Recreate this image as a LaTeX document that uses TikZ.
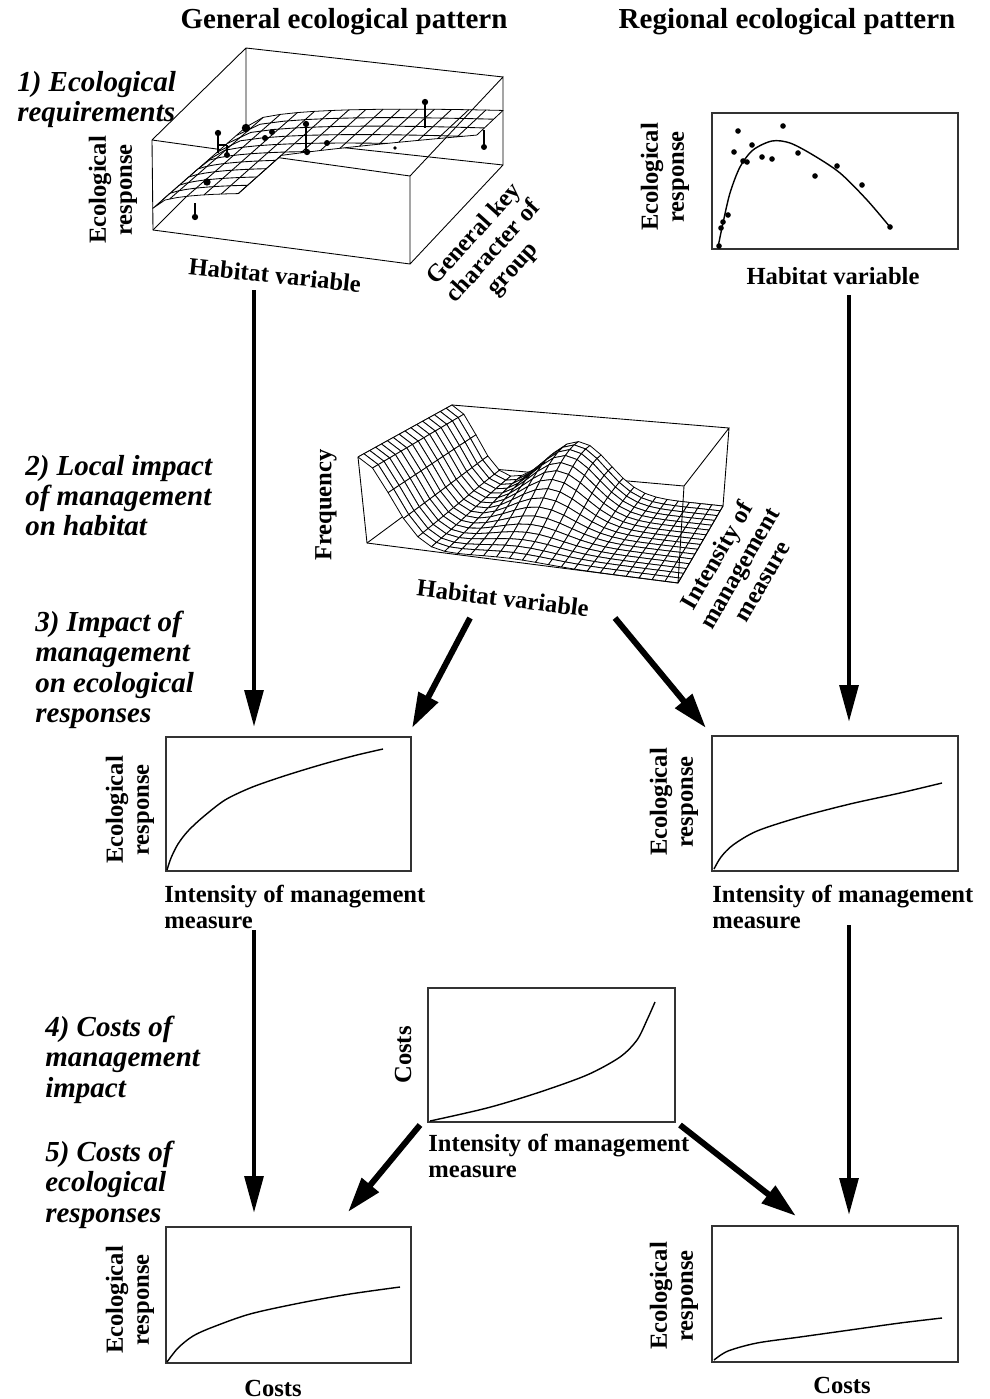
\documentclass[tikz,border=0pt]{standalone}
\usepackage{fontspec}
\setmainfont{Liberation Serif}
\usepackage{tikz}
\usetikzlibrary{arrows.meta,calc}

\begin{document}
\begin{tikzpicture}[x=0.02cm, y=-0.02cm,
  head/.style={font=\bfseries\fontsize{16.5}{19}\selectfont, inner sep=0pt},
  steplab/.style={font=\bfseries\itshape\fontsize{16.5}{17.2}\selectfont, align=left, anchor=north west, inner sep=0pt},
  axlab/.style={font=\bfseries\fontsize{14}{14.8}\selectfont, inner sep=0pt},
  frame/.style={draw=black!80, line width=0.6pt},
  curve/.style={line width=0.8pt},
  edge/.style={line width=0.5pt},
  meshline/.style={line width=0.5pt},
  meshcell/.style={fill=white, draw=black, line width=0.45pt, line join=round},
  bigarrow/.style={line width=2.6pt, -{Triangle[length=21pt,width=10.5pt]}},
  diagarrow/.style={line width=3.4pt, -{Triangle[length=20pt,width=12pt]}},
  declare function={
    ax(\xu,\xv,\xw)=(1-\xu)*(1-\xv)*(153-\xw)+\xu*(1-\xv)*410+\xu*\xv*503+(1-\xu)*\xv*246;
    ay(\xu,\xv,\xw)=(1-\xu)*(1-\xv)*(230-90*\xw)+\xu*(1-\xv)*(264-88*\xw)+\xu*\xv*(165-88*\xw)+(1-\xu)*\xv*(137-89*\xw);
    az(\xu,\xv)=0.24+0.51*sqrt(\xu)-0.13*\xv;
    bx(\xu,\xv,\xw)=(1-\xu)*(1-\xv)*(367-9*\xw)+\xu*(1-\xv)*(678+6*\xw)+\xu*\xv*(723+6*\xw)+(1-\xu)*\xv*(455-3*\xw);
    by(\xu,\xv,\xw)=(1-\xu)*(1-\xv)*(543-86*\xw)+\xu*(1-\xv)*(583-97*\xw)+\xu*\xv*(506-78*\xw)+(1-\xu)*\xv*(478-73*\xw);
    bz(\xu,\xv)=min(1,exp(max(-9,-(\xu/0.12)*(\xu/0.12)))+0.66*exp(max(-9,-((\xu-0.46)/0.16)*((\xu-0.46)/0.16)))*exp(-((\xv-0.95)/0.55)*((\xv-0.95)/0.55)));
  }]
\useasboundingbox (0,0) rectangle (990,1399);

% Column headings
\node[head] (hgen) at (344,22) {General ecological pattern};
\node[head] (hreg) at (787,22) {Regional ecological pattern};

% Step labels
\node[steplab] (s1) at (17,71) {1) Ecological\\requirements};
\node[steplab] (s2) at (25,455) {2) Local impact\\of management\\on habitat};
\node[steplab] (s3) at (35,611) {3) Impact of\\management\\on ecological\\responses};
\node[steplab] (s4) at (45,1016) {4) Costs of\\management\\impact};
\node[steplab] (s5) at (45,1141) {5) Costs of\\ecological\\responses};

% Box A (general requirements): edges behind the surface
\coordinate (aflb) at (153,230); \coordinate (afrb) at (410,264);
\coordinate (abrb) at (503,165); \coordinate (ablb) at (246,137);
\coordinate (aflt) at (152,140); \coordinate (afrt) at (410,176);
\coordinate (abrt) at (503,77);  \coordinate (ablt) at (246,48);
\draw[edge] (aflt) -- (afrt) (ablt) -- (ablb) -- (abrb) (ablb) -- (aflb)
  (aflt) -- (ablt) -- (abrt);

% Box A: fitted surface
\filldraw[meshcell]
  plot[domain=0:0.3333, samples=8, variable=\t] ({ax(\t,0,az(\t,0))},{ay(\t,0,az(\t,0))})
  -- plot[domain=0:0.46, samples=4, variable=\t] ({ax(0.3333,\t,az(0.3333,\t))},{ay(0.3333,\t,az(0.3333,\t))})
  -- plot[domain=0.3333:1, samples=10, variable=\t] ({ax(\t,0.46+0.388*(\t-0.3333),az(\t,0.46+0.388*(\t-0.3333)))},{ay(\t,0.46+0.388*(\t-0.3333),az(\t,0.46+0.388*(\t-0.3333)))})
  -- plot[domain=0.72:1, samples=4, variable=\t] ({ax(1,\t,az(1,\t))},{ay(1,\t,az(1,\t))})
  -- plot[domain=1:0, samples=16, variable=\t] ({ax(\t,1,az(\t,1))},{ay(\t,1,az(\t,1))})
  -- cycle;
\foreach \i in {1,...,14}{
  \pgfmathsetmacro\gu{\i/15}
  \pgfmathsetmacro\vlo{(\gu<0.34)?0:(0.46+0.388*(\gu-0.3333))}
  \draw[meshline] ({ax(\gu,\vlo,az(\gu,\vlo))},{ay(\gu,\vlo,az(\gu,\vlo))})
    -- ({ax(\gu,1,az(\gu,1))},{ay(\gu,1,az(\gu,1))});
}
\foreach \j in {1,...,9}{
  \pgfmathsetmacro\gv{\j/10}
  \pgfmathsetmacro\uhi{(\gv<0.46)?0.3333:min(1,0.3333+(\gv-0.46)/0.388)}
  \draw[meshline] plot[domain=0:\uhi, samples=12, variable=\t]
    ({ax(\t,\gv,az(\t,\gv))},{ay(\t,\gv,az(\t,\gv))});
}

% Box A: observations
\foreach \xa/\ya/\xb/\yb in {218/133/218/153, 227/145/227/155, 306/124/306/152,
  425/102/425/128, 484/147/484/130, 195/217/195/203}
  \draw[line width=1pt] (\xa,\ya) -- (\xb,\yb);
\draw[line width=1pt] (218,145) -- (227,145);
\foreach \xa/\ya/\r in {218/133/1.8, 227/155/1.7, 246/128/2.4, 265/138/1.7, 272/132/1.7,
  306/124/1.8, 307/152/1.8, 327/143/1.7, 425/102/1.8, 484/147/1.7, 207/182/2.1,
  195/217/1.8, 395/148/1.1}
  \fill (\xa,\ya) circle[radius=\r pt];

% Box A: front edges
\draw[edge] (aflt) -- (aflb) -- (afrb) -- (afrt) -- (abrt) -- (abrb) -- (afrb);

% Box A labels
\node[axlab, rotate=90, align=center] (erA) at (113,190) {Ecological\\response};
\node[axlab, rotate=-6] (hvA) at (275,275) {Habitat variable};
\node[axlab, rotate=48, align=center] (gkA) at (494,252) {General key\\character of\\group};

% Box B (habitat frequency): edges behind the surface
\coordinate (bflb) at (367,543); \coordinate (bfrb) at (678,583);
\coordinate (bbrb) at (723,506); \coordinate (bblb) at (455,478);
\coordinate (bflt) at (358,457); \coordinate (bfrt) at (684,486);
\coordinate (bbrt) at (729,428); \coordinate (bblt) at (452,405);
\draw[edge] (bflt) -- (bfrt) (bflt) -- (bblt) -- (bblb) -- (bbrb) (bblb) -- (bflb);

% Box B: frequency surface, drawn back to front
\foreach \i in {0,...,24}{
  \foreach \j in {0,...,16}{
    \pgfmathsetmacro\gu{\i/24}
    \pgfmathsetmacro\gv{\j/16}
    \pgfmathsetmacro\gw{bz(\gu,\gv)}
    \coordinate (m\i-\j) at ({bx(\gu,\gv,\gw)},{by(\gu,\gv,\gw)});
  }
}
\foreach \j in {15,14,...,0}{
  \foreach \i in {0,...,23}{
    \pgfmathtruncatemacro\ii{\i+1}
    \pgfmathtruncatemacro\jj{\j+1}
    \filldraw[meshcell] (m\i-\j) -- (m\ii-\j) -- (m\ii-\jj) -- (m\i-\jj) -- cycle;
  }
}

% Box B: front edges
\draw[edge] (bflt) -- (bflb) -- (bfrb) -- (bfrt) -- (bbrt) -- (bblt)
  (bbrt) -- (bbrb) -- (bfrb);

% Box B labels
\node[axlab, rotate=90] (frB) at (326,505) {Frequency};
\node[axlab, rotate=-7] (hvB) at (503,598) {Habitat variable};
\node[axlab, rotate=60, align=center] (imB) at (739,568) {Intensity of\\management\\measure};

% Regional response curve
\draw[frame] (712,113) rectangle (958,249);
\draw[curve] plot[smooth] coordinates {(718,247) (723,223) (730,193) (740,167) (753,150)
  (772,141) (790,143) (813,155) (840,173) (867,200) (890,227)};
\foreach \xa/\ya in {738/131, 783/126, 734/152, 752/145, 743/161, 747/162, 762/157,
  772/159, 798/153, 837/166, 815/176, 862/185, 890/227, 728/215, 723/222, 721/228, 719/246}
  \fill (\xa,\ya) circle[radius=1.6pt];
\node[axlab, rotate=90, align=center] (erR) at (665,177) {Ecological\\response};
\node[axlab] (hvR) at (833,276) {Habitat variable};

% Step 3 plots
\draw[frame] (166,737) rectangle (411,871);
\draw[curve] plot[smooth] coordinates {(167,870) (171,858) (178,844) (188,831) (203,817)
  (225,800) (250,788) (275,779) (300,771) (327,763) (357,755) (383,749)};
\node[axlab, rotate=90, align=center] (er3L) at (130,810) {Ecological\\response};
\node[axlab, align=left, anchor=north west] (im3L) at (164,885) {Intensity of management\\measure};

\draw[frame] (712,736) rectangle (958,871);
\draw[curve] plot[smooth] coordinates {(714,869) (721,857) (733,845) (757,831) (800,817)
  (850,804) (900,793) (942,783)};
\node[axlab, rotate=90, align=center] (er3R) at (674,802) {Ecological\\response};
\node[axlab, align=left, anchor=north west] (im3R) at (712,885) {Intensity of management\\measure};

% Step 4 cost curve
\draw[frame] (428,988) rectangle (675,1122);
\draw[curve] plot[smooth] coordinates {(430,1121) (487,1108) (537,1093) (587,1075)
  (620,1057) (637,1040) (647,1020) (655,1002)};
\node[axlab, rotate=90] (coC) at (403,1055) {Costs};
\node[axlab, align=left, anchor=north west] (imC) at (428,1134) {Intensity of management\\measure};

% Step 5 plots
\draw[frame] (166,1227) rectangle (411,1363);
\draw[curve] plot[smooth] coordinates {(167,1362) (178,1348) (193,1336) (213,1327)
  (250,1314) (300,1303) (350,1294) (400,1287)};
\node[axlab, rotate=90, align=center] (er5L) at (130,1300) {Ecological\\response};
\node[axlab] (co5L) at (273,1388) {Costs};

\draw[frame] (712,1226) rectangle (958,1362);
\draw[curve] plot[smooth] coordinates {(714,1360) (728,1351) (757,1343) (800,1337)
  (850,1330) (900,1323) (942,1318)};
\node[axlab, rotate=90, align=center] (er5R) at (674,1296) {Ecological\\response};
\node[axlab] (co5R) at (842,1385) {Costs};

% Arrows
\coordinate (a1s) at (254,290);  \coordinate (a1e) at (254,727);
\coordinate (a2s) at (849,295);  \coordinate (a2e) at (849,722);
\coordinate (a3s) at (470,618);  \coordinate (a3e) at (412,728);
\coordinate (a4s) at (615,618);  \coordinate (a4e) at (706,728);
\coordinate (a5s) at (254,930);  \coordinate (a5e) at (254,1213);
\coordinate (a6s) at (849,925);  \coordinate (a6e) at (849,1215);
\coordinate (a7s) at (420,1125); \coordinate (a7e) at (348,1212);
\coordinate (a8s) at (680,1125); \coordinate (a8e) at (796,1216);
\draw[bigarrow] (a1s) -- (a1e);
\draw[bigarrow] (a2s) -- (a2e);
\draw[diagarrow] (a3s) -- (a3e);
\draw[diagarrow] (a4s) -- (a4e);
\draw[bigarrow] (a5s) -- (a5e);
\draw[bigarrow] (a6s) -- (a6e);
\draw[diagarrow] (a7s) -- (a7e);
\draw[diagarrow] (a8s) -- (a8e);
\end{tikzpicture}
\end{document}
